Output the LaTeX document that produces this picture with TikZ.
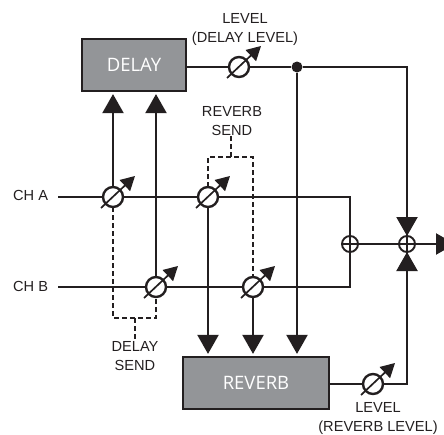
\documentclass[tikz,border=0pt]{standalone}
\usepackage{xcolor}
\usepackage{fontspec}
\setmainfont{Liberation Sans}
\newfontfamily\boxfont{Open Sans}
\usepackage{tikz}
\usetikzlibrary{arrows.meta,calc}
\definecolor{InkBlack}{HTML}{231F20}
\definecolor{BoxGray}{HTML}{939598}
\tikzset{
  fxbox/.style={
    draw=InkBlack,fill=BoxGray,line width=2.2pt,inner sep=0pt,
    font=\boxfont\fontsize{18.5}{22}\selectfont\color{white},align=center
  },
  knob/.style={
    circle,draw=InkBlack,fill=white,line width=2.4pt,
    minimum size=20pt,inner sep=0pt,outer sep=0pt
  },
  sumnode/.style={
    circle,draw=InkBlack,fill=white,line width=1.9pt,
    minimum size=16pt,inner sep=0pt,outer sep=0pt,
    path picture={
      \draw[line width=1.7pt,InkBlack] (path picture bounding box.north) -- (path picture bounding box.south);
      \draw[line width=1.7pt,InkBlack] (path picture bounding box.west) -- (path picture bounding box.east);
    }
  },
  lbl/.style={font=\fontsize{14.6}{19}\selectfont,text=InkBlack,align=center,inner sep=0pt},
  wire/.style={draw=InkBlack,line width=2.2pt},
  feed/.style={wire,-{Triangle[length=19pt,width=21pt]}},
  sendline/.style={draw=InkBlack,line width=2pt,dash pattern=on 5pt off 3pt},
  knobarrow/.style={draw=InkBlack,line width=1.7pt,-{Triangle[length=14pt,width=15pt]}},
}
\begin{document}
\begin{tikzpicture}[x=1pt,y=-1pt]
  \clip (0,0) rectangle (444,434);
  \node[fxbox,minimum width=104pt,minimum height=52pt] (delaybox) at (134,65) {DELAY};
  \node[fxbox,minimum width=146pt,minimum height=52pt] (reverbbox) at (256,383) {REVERB};
  \node[sumnode] (sumch) at (350,244) {};
  \node[sumnode] (sumout) at (407,244) {};
  \node[circle,fill=InkBlack,minimum size=11pt,inner sep=0pt] (tap) at (297,67) {};
  \coordinate (outend) at (455,244);
  \node[lbl,anchor=west] (cha) at (13,195) {CH A};
  \node[lbl,anchor=west] (chb) at (13,286) {CH B};
  \node[lbl] (dlevel) at (245,29) {LEVEL\\(DELAY LEVEL)};
  \node[lbl] (rsend) at (232,121) {REVERB\\SEND};
  \node[lbl] (dsend) at (135,356) {DELAY\\SEND};
  \node[lbl] (rlevel) at (378,418) {LEVEL\\(REVERB LEVEL)};
  % Channel lines
  \coordinate (corna) at (350,197);
  \coordinate (cornb) at (350,287);
  \coordinate (rowa) at (58,197);
  \coordinate (rowb) at (58,287);
  \coordinate (dtop) at (231,157);
  \coordinate (dbot) at (135,318);
  \node[knob] (ka1) at (113,197) {};
  \node[knob] (ka2) at (208,197) {};
  \node[knob] (kb1) at (156,287) {};
  \node[knob] (kb2) at (253,287) {};
  \node[knob] (kd) at (239,67) {};
  \node[knob] (kr) at (373,384) {};
  \draw[wire] (rowa) -- (ka1) (ka1) -- (ka2) (ka2) -- (corna) -- (sumch.north);
  \draw[wire] (rowb) -- (kb1) (kb1) -- (kb2) (kb2) -- (cornb) -- (sumch.south);
  \draw[feed] (ka1.north) -- ($(ka1 |- delaybox.south)+(0,2)$);
  \draw[feed] (kb1.north) -- ($(kb1 |- delaybox.south)+(0,2)$);
  \draw[feed] (ka2.south) -- ($(ka2 |- reverbbox.north)+(0,-2)$);
  \draw[feed] (kb2.south) -- ($(kb2 |- reverbbox.north)+(0,-2)$);
  \draw[feed] (tap.south) -- ($(tap |- reverbbox.north)+(0,-2)$);
  \draw[wire] (delaybox.east |- kd) -- (kd) (kd) -- (tap) -- (sumout |- tap) -- (sumout.north);
  \draw[wire,line width=1.8pt] (reverbbox.east |- kr) -- (kr) (kr) -- (sumout |- kr) -- (sumout.south);
  \draw[wire] (sumch.east) -- (sumout.west);
  % Arrows into the mixers
  \draw[feed] ($(sumout)+(0,-30)$) -- (sumout.north);
  \draw[feed] ($(sumout)+(0,30)$) -- (sumout.south);
  \draw[feed] (sumout.east) -- (outend);
  % Send links
  \draw[sendline] (ka2.north) -- (ka2 |- dtop) -- (kb2 |- dtop) -- (kb2.north);
  \draw[sendline] (dtop) -- (dtop |- rsend.south);
  \draw[sendline] (ka1.south) -- (ka1 |- dbot) -- (kb1 |- dbot) -- (kb1.south);
  \draw[sendline] (dbot) -- (dbot |- dsend.north);
  % Knob pointers
  \foreach \k in {ka1,ka2,kb1,kb2,kd,kr}
    \draw[knobarrow] ($(\k)+(-12,11)$) -- ($(\k)+(22,-21)$);
\end{tikzpicture}
\end{document}
